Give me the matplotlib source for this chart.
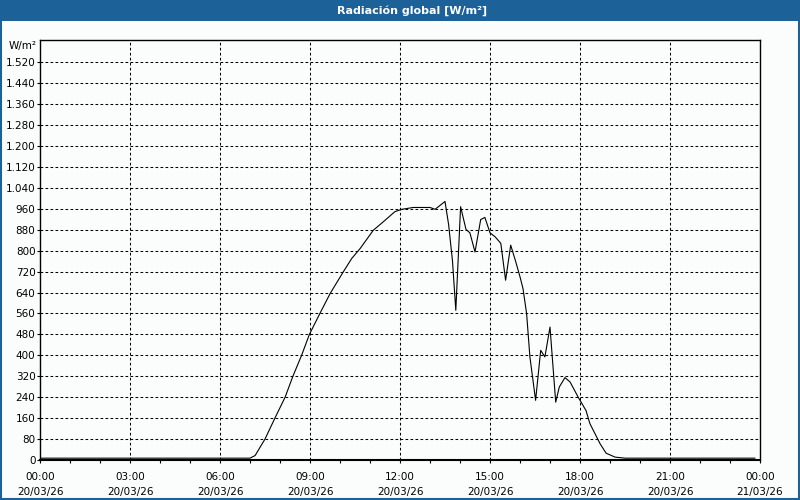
import numpy as np
import matplotlib
matplotlib.use('Agg')
import matplotlib.pyplot as plt
from matplotlib.patches import Rectangle
from matplotlib.ticker import FixedLocator, MultipleLocator

plt.rcParams['font.family'] = ['DejaVu Sans']

# hora del día (h) y radiación global (W/m²)
horas = [0.0, 7.0, 7.17, 7.5, 7.83, 8.17, 8.43, 8.72, 8.98, 9.33, 9.67,
         10.11, 10.39, 10.67, 11.11, 11.44, 11.83, 12.06, 12.44, 13.0, 13.17,
         13.5, 13.62, 13.75, 13.86, 14.02, 14.2, 14.33, 14.5, 14.69, 14.83,
         15.0, 15.17, 15.36, 15.52, 15.69, 15.86, 16.0, 16.1, 16.22, 16.33,
         16.52, 16.69, 16.83, 17.0, 17.19, 17.31, 17.5, 17.67, 17.94, 18.2,
         18.33, 18.56, 18.67, 18.87, 19.17, 19.5, 23.83]
radiacion = [7, 7, 17, 80, 160, 240, 320, 400, 480, 560, 636,
             719, 770, 808, 878, 910, 949, 958, 965, 965, 958,
             988, 900, 760, 572, 968, 881, 868, 795, 919, 927,
             868, 853, 828, 687, 821, 757, 700, 655, 560, 394,
             228, 419, 394, 508, 221, 279, 315, 298, 240, 189,
             139, 87, 62, 26, 11, 7, 7]

etiquetas_x = ['00:00\n20/03/26', '03:00\n20/03/26', '06:00\n20/03/26',
               '09:00\n20/03/26', '12:00\n20/03/26', '15:00\n20/03/26',
               '18:00\n20/03/26', '21:00\n20/03/26', '00:00\n21/03/26']
ticks_y = list(range(0, 1521, 80))

azul = '#1d6199'
fondo = '#fbfdfd'

fig = plt.figure(figsize=(8, 5), dpi=100, facecolor=fondo)
ax = fig.add_axes([0.05, 0.08, 0.90, 0.84])
ax.set_facecolor(fondo)

# barra de título y marco
fig.patches.append(Rectangle((0, 0.958), 1, 0.042, transform=fig.transFigure,
                             facecolor=azul, edgecolor='none', zorder=0))
fig.patches.append(Rectangle((0.001, 0.002), 0.998, 0.996, transform=fig.transFigure,
                             facecolor='none', edgecolor=azul, linewidth=1.5, zorder=1))
fig.text(0.515, 0.979, 'Radiación global [W/m²]', color='white', fontsize=8,
         fontweight='bold', ha='center', va='center')
fig.text(0.046, 0.909, 'W/m²', fontsize=7.5, ha='right', va='center')

ax.plot(horas, radiacion, color='black', linewidth=0.8, zorder=3)

ax.set_xlim(0, 24)
ax.set_ylim(0, 1605)

ax.xaxis.set_major_locator(FixedLocator(np.arange(0, 25, 3)))
ax.set_xticklabels(etiquetas_x)
ax.xaxis.set_minor_locator(MultipleLocator(1))
ax.set_yticks(ticks_y)
ax.set_yticklabels([f'{v:,}'.replace(',', '.') for v in ticks_y])

ax.tick_params(axis='both', which='both', direction='out', length=2.5,
               width=0.8, labelsize=7.5, pad=0.8)
ax.tick_params(axis='x', which='major', pad=6)

for v in ticks_y[1:]:
    ax.axhline(v, color='black', linewidth=0.75, linestyle=(0, (2.6, 2.2)), zorder=1)
for h in range(3, 24, 3):
    ax.axvline(h, color='black', linewidth=0.75, linestyle=(0, (2.6, 2.2)), zorder=1)

for s in ax.spines.values():
    s.set_linewidth(1.0)
ax.spines['bottom'].set_linewidth(1.5)

for lbl in ax.get_xticklabels():
    lbl.set_linespacing(1.6)

fig.savefig('out.png', dpi=100, facecolor=fondo)
